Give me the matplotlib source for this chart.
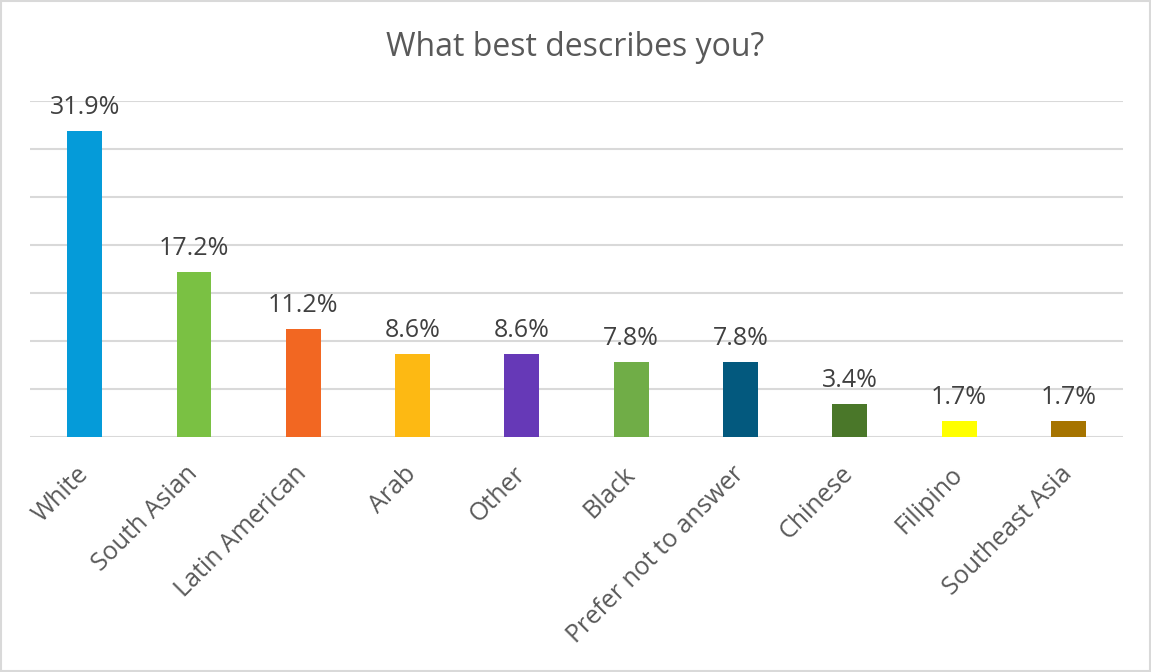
import matplotlib.pyplot as plt
from matplotlib.patches import Rectangle

# --- data ---
categories = ["White", "South Asian", "Latin American", "Arab", "Other", "Black",
              "Prefer not to answer", "Chinese", "Filipino", "Southeast Asia"]
shares = [31.9, 17.2, 11.2, 8.6, 8.6, 7.8, 7.8, 3.4, 1.7, 1.7]
colors = ["#059BD9", "#7AC143", "#F26722", "#FDB913", "#6639B7", "#70AD47",
          "#03597E", "#4A7729", "#FFFF00", "#A67400"]
grid_ticks = [0, 5, 10, 15, 20, 25, 30, 35]
# ------------

TEXT = "#595959"
plt.rcParams["font.family"] = ["Open Sans", "DejaVu Sans"]

fig = plt.figure(figsize=(11.51, 6.72), dpi=100)
ax = fig.add_axes([0.0261, 0.3497, 0.9496, 0.5])

x = range(len(categories))
bars = ax.bar(x, shares, width=0.32, color=colors, zorder=3)

for rect, v in zip(bars, shares):
    ax.annotate(f"{v}%", (rect.get_x() + rect.get_width() / 2, v),
                xytext=(0, 11), textcoords="offset pixels",
                ha="center", va="bottom", fontsize=18, color="#404040")

ax.set_xlim(-0.5, len(categories) - 0.5)
ax.set_ylim(0, 35)
ax.set_yticks(grid_ticks)
ax.yaxis.grid(True, color="#D9D9D9", lw=1.5, zorder=0)
ax.tick_params(axis="y", left=False, labelleft=False)
ax.tick_params(axis="x", length=0, pad=24)
ax.set_xticks(list(x))
ax.set_xticklabels(categories, rotation=45, ha="right", va="center",
                   rotation_mode="anchor", fontsize=18, color=TEXT)
for s in ax.spines.values():
    s.set_visible(False)

fig.text(0.5, 0.93, "What best describes you?", ha="center", va="center",
         fontsize=23, color=TEXT)

# light frame around the whole chart
fig.patches.append(Rectangle((0.001, 0.001), 0.998, 0.997, transform=fig.transFigure,
                             fill=False, edgecolor="#D9D9D9", lw=1.5))

fig.savefig("out.png", dpi=100)
